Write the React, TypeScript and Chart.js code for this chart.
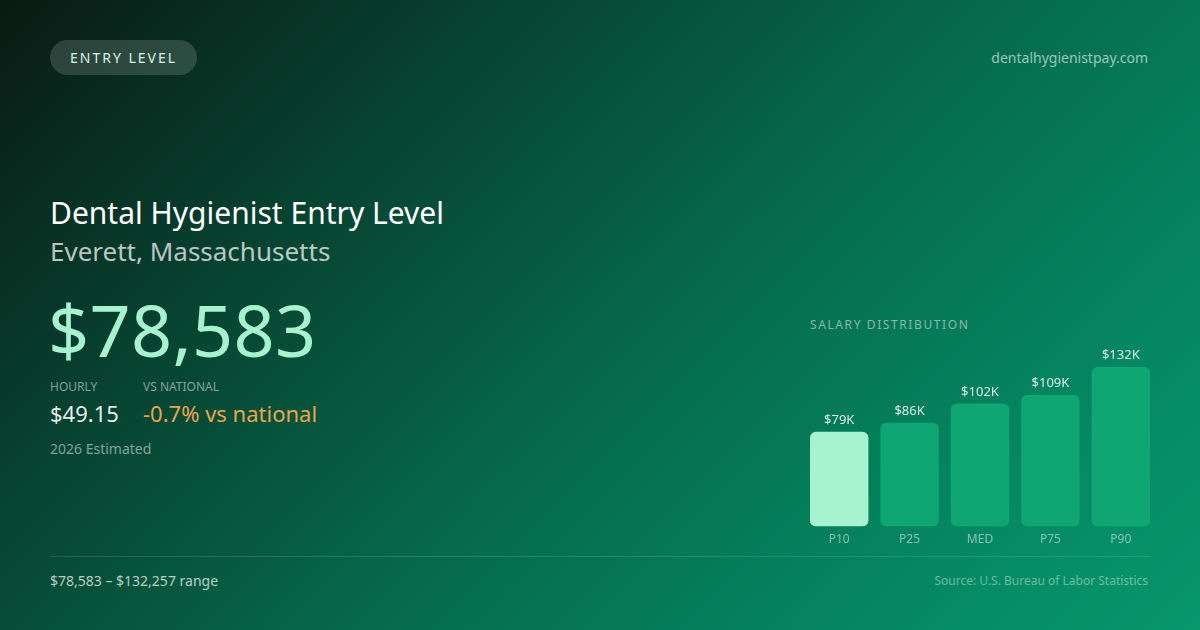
import React, { useEffect, useRef } from 'react';
import { Chart, registerables } from 'chart.js';

Chart.register(...registerables);

// salary percentiles, annual dollars
const percentileLabels = ['P10', 'P25', 'MED', 'P75', 'P90'];
const salaryValues = [78583, 86000, 102000, 109000, 132257];
const barColors = ['#a7f3d0', '#0fa673', '#0fa673', '#0fa673', '#0fa673'];

const FONT = '"Noto Sans", "Open Sans", sans-serif';

const valueLabels = {
    id: 'valueLabels',
    afterDatasetsDraw(chart: any) {
        const ctx = chart.ctx;
        const meta = chart.getDatasetMeta(0);
        ctx.save();
        ctx.font = `13px ${FONT}`;
        ctx.fillStyle = 'rgba(255,255,255,0.85)';
        ctx.textAlign = 'center';
        ctx.textBaseline = 'middle';
        meta.data.forEach((bar: any, i: number) => {
            const v = chart.data.datasets[0].data[i] as number;
            ctx.fillText('$' + Math.round(v / 1000) + 'K', bar.x, bar.y - 11.5);
        });
        ctx.restore();
    },
};

const SalaryBars: React.FC = () => {
    const chartRef = useRef<HTMLCanvasElement>(null);
    const chartInstanceRef = useRef<Chart | null>(null);

    useEffect(() => {
        if (!chartRef.current) return;
        const ctx = chartRef.current.getContext('2d');
        if (!ctx) return;

        if (chartInstanceRef.current) {
            chartInstanceRef.current.destroy();
            chartInstanceRef.current = null;
        }

        chartInstanceRef.current = new Chart(ctx, {
            type: 'bar',
            data: {
                labels: percentileLabels,
                datasets: [{
                    data: salaryValues,
                    backgroundColor: barColors,
                    borderRadius: 6,
                    borderSkipped: false,
                    barPercentage: 0.83,
                    categoryPercentage: 1,
                }],
            },
            options: {
                animation: false,
                responsive: false,
                maintainAspectRatio: false,
                layout: { padding: { top: 27, left: 4, right: 4, bottom: 0 } },
                plugins: { legend: { display: false }, tooltip: { enabled: false } },
                scales: {
                    x: {
                        grid: { display: false, drawTicks: false },
                        border: { display: false },
                        ticks: {
                            color: 'rgba(255,255,255,0.5)',
                            font: { family: FONT, size: 12 },
                            padding: 6,
                        },
                    },
                    y: {
                        display: false,
                        min: 0,
                        max: Math.max(...salaryValues),
                    },
                },
            },
            plugins: [valueLabels],
        });

        return () => {
            if (chartInstanceRef.current) {
                chartInstanceRef.current.destroy();
                chartInstanceRef.current = null;
            }
        };
    }, []);

    return (
        <canvas
            ref={chartRef}
            width={360}
            height={213}
            style={{ position: 'absolute', left: 800, top: 340, width: 360, height: 213 }}
        />
    );
};

const abs = (left: number, top: number, size: number, color: string, extra: React.CSSProperties = {}): React.CSSProperties => ({
    position: 'absolute',
    left,
    top,
    fontSize: size,
    lineHeight: `${size}px`,
    color,
    whiteSpace: 'nowrap',
    ...extra,
});

const App: React.FC = () => {
    useEffect(() => {
        document.body.style.margin = '0';
    }, []);

    return (
        <div style={{
            position: 'relative',
            width: 1200,
            height: 630,
            overflow: 'hidden',
            fontFamily: FONT,
            background: 'linear-gradient(135deg, #0a1a13 0%, #073f2e 25%, #066b4c 55%, #058660 80%, #07976b 100%)',
        }}>
            <div style={{
                position: 'absolute', left: 50, top: 40, height: 35, padding: '0 20px',
                borderRadius: 18, background: 'rgba(255,255,255,0.15)',
                color: '#d8f3e8', fontSize: 14, lineHeight: '35px', letterSpacing: 2,
            }}>ENTRY LEVEL</div>
            <div style={abs(0, 51, 14, 'rgba(255,255,255,0.6)', { left: 'auto', right: 52 })}>dentalhygienistpay.com</div>

            <div style={abs(50, 198, 30, '#ffffff')}>Dental Hygienist Entry Level</div>
            <div style={abs(50, 238, 26, 'rgba(255,255,255,0.72)')}>Everett, Massachusetts</div>
            <div style={abs(48, 293, 72, '#a7f3d0', { letterSpacing: 0.3 })}>$78,583</div>

            <div style={abs(50, 381, 12, 'rgba(255,255,255,0.5)')}>HOURLY</div>
            <div style={abs(143, 381, 12, 'rgba(255,255,255,0.5)')}>VS NATIONAL</div>
            <div style={abs(50, 402, 22, 'rgba(255,255,255,0.92)')}>$49.15</div>
            <div style={abs(143, 402, 22, '#eba64e')}>-0.7% vs national</div>
            <div style={abs(50, 442, 14, 'rgba(255,255,255,0.5)')}>2026 Estimated</div>

            <div style={abs(810, 319, 12, 'rgba(255,255,255,0.5)', { letterSpacing: 1.6 })}>SALARY DISTRIBUTION</div>
            <SalaryBars />

            <div style={{ position: 'absolute', left: 50, top: 556, width: 1100, height: 1, background: 'rgba(255,255,255,0.12)' }} />
            <div style={abs(50, 574, 14, 'rgba(255,255,255,0.72)')}>$78,583 – $132,257 range</div>
            <div style={abs(0, 575, 12, 'rgba(255,255,255,0.42)', { left: 'auto', right: 52 })}>Source: U.S. Bureau of Labor Statistics</div>
        </div>
    );
};

export default App;
